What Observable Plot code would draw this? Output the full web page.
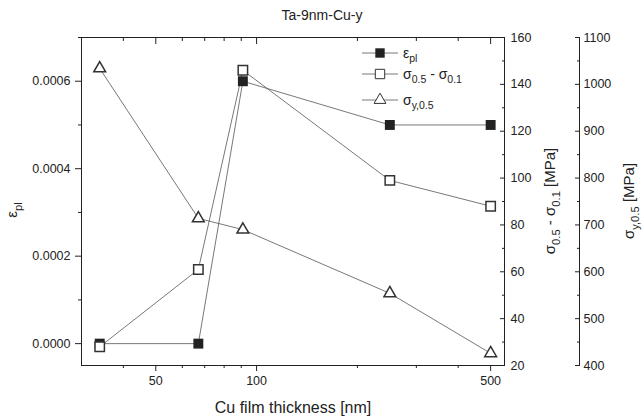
<!DOCTYPE html>
<html><head><meta charset="utf-8">
<script src="https://cdn.jsdelivr.net/npm/d3@7"></script>
<script src="https://cdn.jsdelivr.net/npm/@observablehq/plot@0.6"></script>
<style>body{margin:0;background:#fff;} svg{display:block}</style>
</head><body><div id="chart"></div>
<script>
const thickness = [34, 67, 91, 250, 500];
const epsPl = [0, 0, 0.0006, 0.0005, 0.0005];
const sigmaDiff = [28, 61, 146, 99, 88];
const sigmaY = [1034, 714, 690, 554, 426];

const xTicks = [50, 100, 500];
const xMinor = [40, 60, 70, 80, 90, 200, 300, 400];
const epsTicks = [0, 0.0002, 0.0004, 0.0006];
const epsMinor = [0.0001, 0.0003, 0.0005, 0.0007];
const diffTicks = [20, 40, 60, 80, 100, 120, 140, 160];
const diffMinor = [30, 50, 70, 90, 110, 130, 150];
const yTicks = [400, 500, 600, 700, 800, 900, 1000, 1100];
const yMinor = [450, 550, 650, 750, 850, 950, 1050];

const epsDomain = [-0.00005, 0.0007];
const diffDomain = [20, 160];
const yDomain = [400, 1100];
const s2 = d3.scaleLinear(diffDomain, epsDomain);
const s3 = d3.scaleLinear(yDomain, epsDomain);
const rows = thickness.map((t, i) => ({t, e: epsPl[i], d: s2(sigmaDiff[i]), s: s3(sigmaY[i])}));

const ink = "#222";
const lineC = "#555";
const off = 75;

const chart = Plot.plot({
  width: 644, height: 419,
  marginLeft: 81, marginRight: 140, marginTop: 37, marginBottom: 54,
  style: {fontFamily: "'Liberation Sans', Arial, sans-serif", fontSize: "12.5px", color: ink, background: "white"},
  x: {type: "log", domain: [30, 550]},
  y: {domain: epsDomain},
  marks: [
    Plot.axisX({ticks: xTicks, tickFormat: d => String(d), tickSize: 6, tickPadding: 5, label: null}),
    Plot.axisX({ticks: xMinor, tickSize: 3, text: null, label: null}),
    Plot.axisX({anchor: "top", ticks: xTicks, tickSize: 6, dy: 6, text: null, label: null}),
    Plot.axisX({anchor: "top", ticks: xMinor, tickSize: 3, dy: 3, text: null, label: null}),
    Plot.axisY({anchor: "left", ticks: epsTicks, tickFormat: d => d.toFixed(4), tickSize: 6, tickPadding: 5, label: null}),
    Plot.axisY({anchor: "left", ticks: epsMinor, tickSize: 3, text: null, label: null}),
    Plot.axisY({anchor: "right", ticks: diffTicks.map(s2), tickSize: 5, dx: -5, text: null, label: null}),
    Plot.axisY({anchor: "right", ticks: diffMinor.map(s2), tickSize: 3, dx: -3, text: null, label: null}),
    Plot.axisY({anchor: "right", ticks: diffTicks.map(s2), tickFormat: d => String(Math.round(s2.invert(d))), tickSize: 0, tickPadding: 6, label: null}),
    Plot.ruleX([550], {dx: off, stroke: ink}),
    Plot.axisY({anchor: "right", ticks: yTicks.map(s3), tickSize: 5, dx: off - 5, text: null, label: null}),
    Plot.axisY({anchor: "right", ticks: yMinor.map(s3), tickSize: 3, dx: off - 3, text: null, label: null}),
    Plot.axisY({anchor: "right", ticks: yTicks.map(s3), tickFormat: d => String(Math.round(s3.invert(d))), tickSize: 0, tickPadding: 4, dx: off, label: null}),
    Plot.frame({stroke: ink}),
    Plot.line(rows, {x: "t", y: "e", stroke: lineC, strokeWidth: 0.8}),
    Plot.line(rows, {x: "t", y: "d", stroke: lineC, strokeWidth: 0.8}),
    Plot.line(rows, {x: "t", y: "s", stroke: lineC, strokeWidth: 0.8}),
    Plot.dot(rows, {x: "t", y: "e", symbol: "square", r: 5.6, fill: ink}),
    Plot.dot(rows, {x: "t", y: "d", symbol: "square", r: 5.3, fill: "white", stroke: "#333"}),
    Plot.dot(rows, {x: "t", y: "s", symbol: "triangle", r: 4.4, fill: "white", stroke: "#333"})
  ]
});
document.getElementById("chart").appendChild(chart);

const svg = d3.select(chart);
const font = "'Liberation Sans', Arial, sans-serif";
function addParts(t, parts, size) {
  let shift = 0;
  for (const [txt, sub] of parts) {
    const want = sub ? Math.round(size * 0.3) : 0;
    t.append("tspan").attr("dy", want - shift).attr("font-size", sub ? size * 0.75 : size).text(txt);
    shift = want;
  }
}
function label(parts, x, y, rotate, size) {
  const t = svg.append("text")
    .attr("transform", `translate(${x},${y})` + (rotate ? " rotate(-90)" : ""))
    .attr("text-anchor", "middle").attr("fill", ink)
    .attr("font-family", font).attr("font-size", size);
  addParts(t, parts, size);
  return t;
}
label([["Ta-9nm-Cu-y", 0]], 322, 20, false, 14);
label([["Cu film thickness [nm]", 0]], 293, 413, false, 16);
label([["ε", 0], ["pl", 1]], 17, 210, true, 15);
label([["σ", 0], ["0.5", 1], [" - σ", 0], ["0.1", 1], [" [MPa]", 0]], 555, 201, true, 15);
label([["σ", 0], ["y,0.5", 1], [" [MPa]", 0]], 634, 201, true, 15);

// legend
const legend = [
  {parts: [["ε", 0], ["pl", 1]], y: 53, kind: "filled"},
  {parts: [["σ", 0], ["0.5", 1], [" - σ", 0], ["0.1", 1]], y: 74, kind: "open"},
  {parts: [["σ", 0], ["y,0.5", 1]], y: 100, kind: "tri"}
];
for (const L of legend) {
  svg.append("line").attr("x1", 362).attr("x2", 398).attr("y1", L.y).attr("y2", L.y)
    .attr("stroke", lineC).attr("stroke-width", 0.8);
  const sym = L.kind === "tri" ? d3.symbolTriangle : d3.symbolSquare;
  const size = L.kind === "tri" ? Math.PI * 4.4 * 4.4 : Math.PI * 5.3 * 5.3;
  svg.append("path").attr("d", d3.symbol(sym, size)()).attr("transform", `translate(380,${L.y})`)
    .attr("fill", L.kind === "filled" ? ink : "white").attr("stroke", L.kind === "filled" ? "none" : "#333");
  const t = svg.append("text").attr("x", 403).attr("y", L.y + 5).attr("fill", ink)
    .attr("text-anchor", "start").attr("font-family", font).attr("font-size", 14);
  addParts(t, L.parts, 14);
}
</script>
</body></html>
